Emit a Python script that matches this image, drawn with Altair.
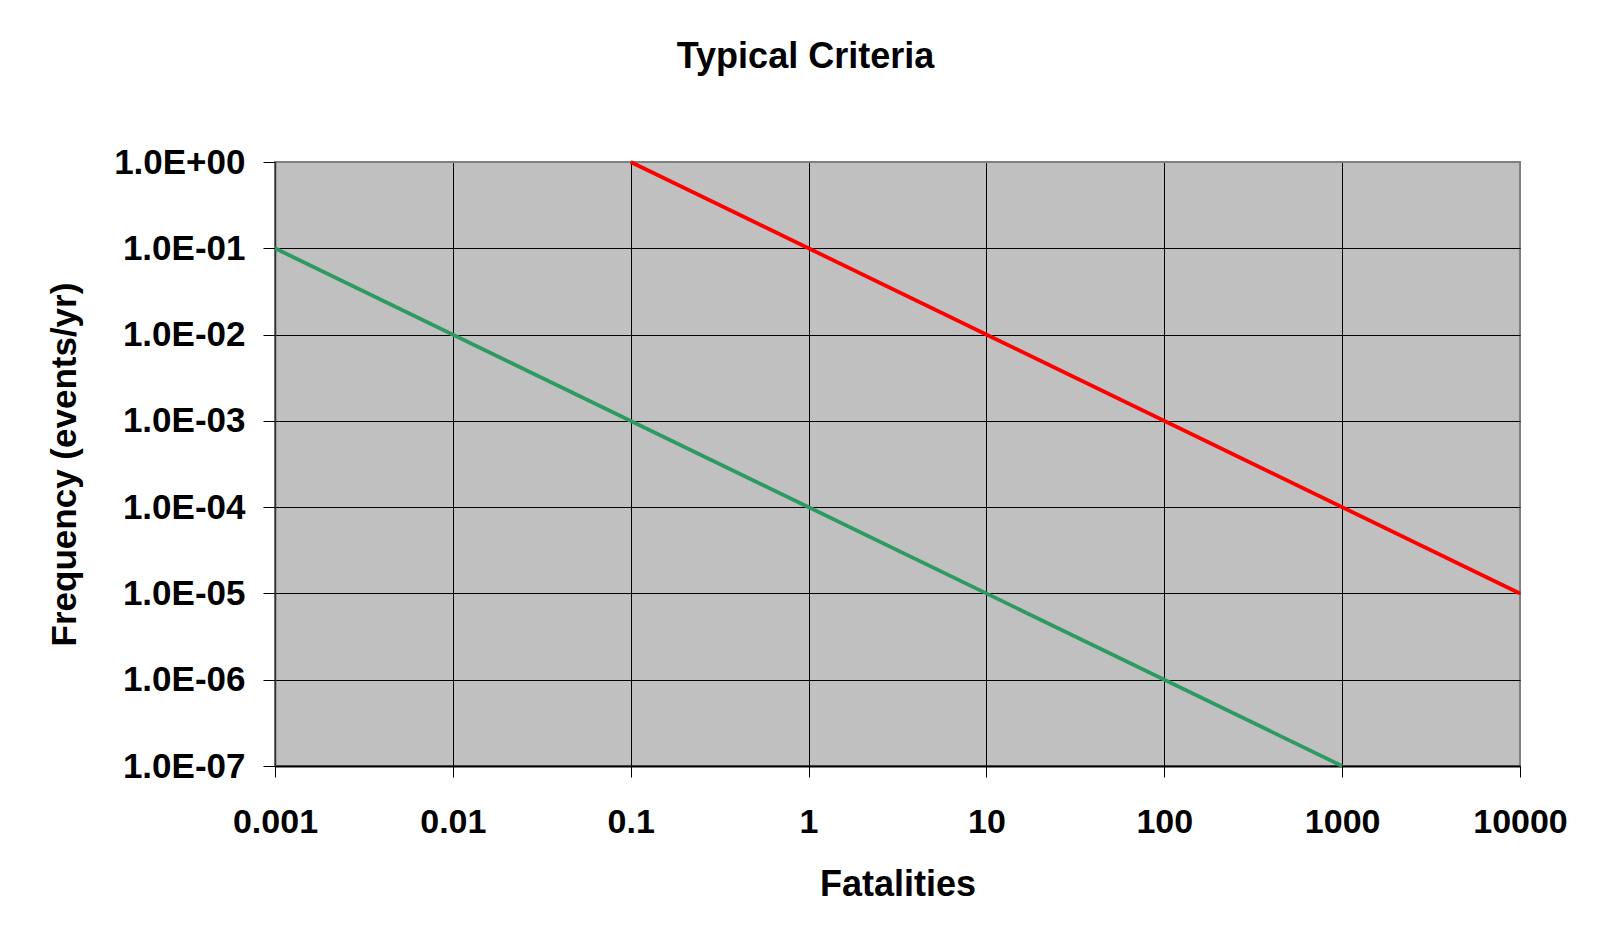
import json
import altair as alt
import pandas as pd

# ---- data ----
series_names = ["Upper criterion", "Lower criterion"]
upper_fatalities = [0.1, 10000]
upper_frequency = [1.0, 1e-5]
lower_fatalities = [0.001, 1000]
lower_frequency = [1e-1, 1e-7]
series_colors = ["#ff0000", "#2e9a62"]

x_ticks = [0.001, 0.01, 0.1, 1, 10, 100, 1000, 10000]
x_labels = ["0.001", "0.01", "0.1", "1", "10", "100", "1000", "10000"]
y_ticks = [1e-7, 1e-6, 1e-5, 1e-4, 1e-3, 1e-2, 1e-1, 1.0]
y_labels = ["1.0E-07", "1.0E-06", "1.0E-05", "1.0E-04",
            "1.0E-03", "1.0E-02", "1.0E-01", "1.0E+00"]

rows = []
for f, q in zip(upper_fatalities, upper_frequency):
    rows.append({"series": series_names[0], "Fatalities": f, "Frequency": q})
for f, q in zip(lower_fatalities, lower_frequency):
    rows.append({"series": series_names[1], "Fatalities": f, "Frequency": q})
df = pd.DataFrame(rows)

FONT = "Liberation Sans, Arial, Helvetica, sans-serif"

x_label_expr = json.dumps(x_labels) + "[round(log(datum.value)/LN10) + 3]"
y_label_expr = json.dumps(y_labels) + "[round(log(datum.value)/LN10) + 7]"

W, H = 1245, 604

chart = alt.Chart(df).mark_line(strokeWidth=3.8, clip=False).encode(
    x=alt.X(
        "Fatalities:Q",
        scale=alt.Scale(type="log", domain=[0.001, 10000], nice=False),
        axis=alt.Axis(
            values=x_ticks,
            labelExpr=x_label_expr,
            title="Fatalities",
            grid=True,
            gridColor={"condition": {"test": "datum.value >= 10000", "value": "#808080"}, "value": "#000000"},
            gridWidth=1,
            domainColor="#000000",
            domainWidth=2,
            tickColor="#000000",
            tickSize=11,
            tickWidth=1,
            labelPadding=28,
            labelFont=FONT,
            labelFontSize=34,
            labelFontWeight="bold",
            labelColor="#000000",
            labelFlush=False,
            labelOverlap=False,
            titleFont=FONT,
            titleFontSize=36,
            titleFontWeight="bold",
            titleColor="#000000",
            titleX=W / 2,
            titleY=129,
            titleBaseline="alphabetic",
            titleAlign="center",
        ),
    ),
    y=alt.Y(
        "Frequency:Q",
        scale=alt.Scale(type="log", domain=[1e-7, 1.0], nice=False),
        axis=alt.Axis(
            values=y_ticks,
            labelExpr=y_label_expr,
            title="Frequency (events/yr)",
            grid=True,
            gridColor={"condition": {"test": "datum.value >= 1", "value": "#808080"}, "value": "#000000"},
            gridWidth=1,
            domainColor="#303030",
            domainWidth=1.5,
            tickColor="#000000",
            tickSize=12,
            tickWidth=1,
            labelPadding=18,
            labelFont=FONT,
            labelFontSize=35,
            labelFontWeight="bold",
            labelColor="#000000",
            labelFlush=False,
            labelOverlap=False,
            titleFont=FONT,
            titleFontSize=35,
            titleFontWeight="bold",
            titleColor="#000000",
            titleX=-200,
            titleY=H / 2,
            titleAngle=270,
            titleBaseline="alphabetic",
            titleAlign="center",
        ),
    ),
    color=alt.Color(
        "series:N",
        scale=alt.Scale(domain=series_names, range=series_colors),
        legend=None,
    ),
    detail="series:N",
).properties(
    width=W,
    height=H,
    background="#ffffff",
    autosize=alt.AutoSizeParams(type="none"),
    padding={"left": 267, "top": 154, "right": 66, "bottom": 160},
    title=alt.TitleParams(
        text="Typical Criteria",
        font=FONT,
        fontSize=36,
        fontWeight="bold",
        color="#000000",
        anchor="middle",
        frame="group",
        baseline="alphabetic",
        offset=41,
        dx=-92,
    ),
).configure_view(
    fill="#c0c0c0",
    stroke="#808080",
    strokeWidth=2,
)

chart.save("out.html", embed_options={"renderer": "svg", "actions": False})
